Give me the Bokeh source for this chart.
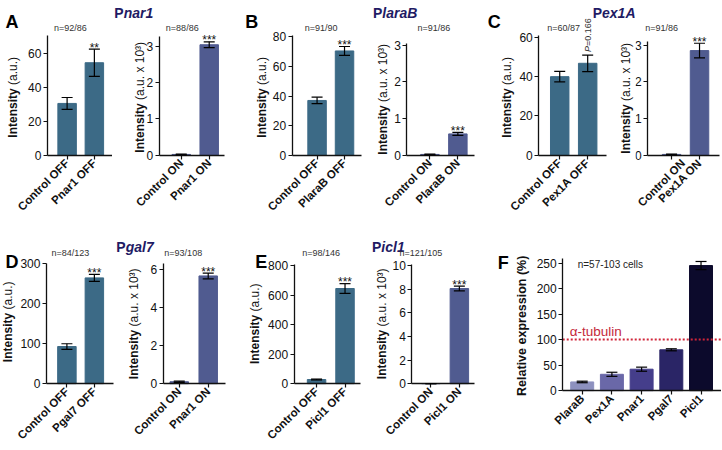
import math
from bokeh.plotting import figure
from bokeh.layouts import row, column
from bokeh.models import Range1d, FixedTicker, Whisker, TeeHead, Label, ColumnDataSource
from bokeh.embed import file_html
from bokeh.resources import INLINE

FONT = "Liberation Sans"

# ======================= DATA =======================
a_off_cats = ["Control OFF", "Pnar1 OFF"]
a_off_vals = [30.5, 54.5]
a_off_errs = [3.5, 8.0]
a_off_stars = ["", "**"]
a_off_n = "n=92/86"
a_on_cats = ["Control ON", "Pnar1 ON"]
a_on_vals = [0.02, 3.05]
a_on_errs = [0.01, 0.08]
a_on_stars = ["", "***"]
a_on_n = "n=88/86"

b_off_cats = ["Control OFF", "PlaraB OFF"]
b_off_vals = [37.0, 70.5]
b_off_errs = [2.2, 3.0]
b_off_stars = ["", "***"]
b_off_n = "n=91/90"
b_on_cats = ["Control ON", "PlaraB ON"]
b_on_vals = [0.02, 0.58]
b_on_errs = [0.01, 0.04]
b_on_stars = ["", "***"]
b_on_n = "n=91/86"

c_off_cats = ["Control OFF", "Pex1A OFF"]
c_off_vals = [40.0, 46.8]
c_off_errs = [2.7, 4.2]
c_off_stars = ["", ""]
c_off_n = "n=60/87"
c_off_pvalue = "=0.166"
c_on_cats = ["Control ON", "Pex1A ON"]
c_on_vals = [0.02, 2.85]
c_on_errs = [0.01, 0.2]
c_on_stars = ["", "***"]
c_on_n = "n=91/86"

d_off_cats = ["Control OFF", "Pgal7 OFF"]
d_off_vals = [93.0, 265.0]
d_off_errs = [7.0, 9.0]
d_off_stars = ["", "***"]
d_off_n = "n=84/123"
d_on_cats = ["Control ON", "Pnar1 ON"]
d_on_vals = [0.1, 5.65]
d_on_errs = [0.03, 0.15]
d_on_stars = ["", "***"]
d_on_n = "n=93/108"

e_off_cats = ["Control OFF", "Picl1 OFF"]
e_off_vals = [28.0, 645.0]
e_off_errs = [3.0, 33.0]
e_off_stars = ["", "***"]
e_off_n = "n=98/146"
e_on_cats = ["Control ON", "Picl1 ON"]
e_on_vals = [0.005, 8.05]
e_on_errs = [0.0, 0.2]
e_on_stars = ["", "***"]
e_on_n = "n=121/105"

f_cats = ["PlaraB", "Pex1A", "Pnar1", "Pgal7", "Picl1"]
f_vals = [17.0, 32.0, 42.0, 80.0, 245.0]
f_errs = [1.5, 4.0, 4.0, 2.0, 8.0]
f_stars = ["", "", "", "", ""]
f_n = "n=57-103 cells"
tubulin_level = 100
tubulin_label = "\u03b1-tubulin"

a_off_yticks = [0, 20, 40, 60]
a_on_yticks = [0, 1, 2, 3]
b_off_yticks = [0, 20, 40, 60, 80]
b_on_yticks = [0, 1, 2, 3]
c_off_yticks = [0, 20, 40, 60]
c_on_yticks = [0, 1, 2, 3]
d_off_yticks = [0, 100, 200, 300]
d_on_yticks = [0, 2, 4, 6]
e_off_yticks = [0, 200, 400, 600, 800]
e_on_yticks = [0, 2, 4, 6, 8, 10]
f_yticks = [0, 50, 100, 150, 200, 250]

titles = {"A": ("P", "nar1"), "B": ("P", "laraB"), "C": ("P", "ex1A"),
          "D": ("P", "gal7"), "E": ("P", "icl1")}

# ======================= STYLE / LAYOUT =======================
OFF_COLOR = "#3c6a86"
ON_COLOR = "#505b90"
TITLE_COLOR = "#1f1b64"
f_colors = ["#8d91bf", "#6a68a8", "#453e8b", "#2a2566", "#0c0a2c"]

SX = 721 / 722
SY = 449 / 450

W_REG = {' ': 278, '(': 333, ')': 333, 'a': 556, '.': 278, 'u': 556, 'x': 500,
         '1': 556, '0': 556, '\u00b3': 333, '=': 584, 'P': 667}
W_BOLD = {'I': 278, 'n': 611, 't': 333, 'e': 556, 's': 556, 'i': 278, 'y': 556,
          'P': 667, 'R': 722, 'l': 278, 'a': 556, 'v': 556, 'x': 556, 'p': 611,
          'r': 389, 'o': 611, ' ': 278, '(': 333, '%': 889, ')': 333}


def tw(s, size, table):
    return sum(table.get(c, 556) for c in s) * size / 1000.0


class Geo:
    """Maps reference-pixel positions to the data space of one canvas."""
    def __init__(self, box, frame, tick_px, ymax):
        x0, x1, y0, y1 = box
        l, r, t, b = frame
        self.X0, self.X1 = round(x0 * SX), round(x1 * SX)
        self.Y0, self.Y1 = round(y0 * SY), round(y1 * SY)
        self.T1 = tick_px[0] * SX
        self.STEP = (tick_px[1] - tick_px[0]) * SX
        self.step_ref = tick_px[1] - tick_px[0]
        self.Bl = b * SY
        self.Tl = t * SY
        self.ymax = ymax
        self.l = l
        self.r = r

    def dxl(self, X):
        return 1 + (X - self.T1) / self.STEP

    def dx(self, px):
        return self.dxl(px * SX)

    def dyl(self, Y):
        return (self.Bl - Y) * self.ymax / (self.Bl - self.Tl)

    def dy(self, py):
        return self.dyl(py * SY)

    def per_px(self):
        return self.ymax / (self.Bl - self.Tl)


def style_axis(ax, size, bold=False):
    ax.major_label_text_font = FONT
    ax.major_label_text_font_size = size
    ax.major_label_text_color = "#111111"
    if bold:
        ax.major_label_text_font_style = "bold"
    ax.major_tick_out = 4
    ax.major_tick_in = 0
    ax.minor_tick_out = 0
    ax.minor_tick_in = 0
    ax.major_label_standoff = 2
    ax.axis_line_width = 1.3
    ax.axis_line_color = "#111111"
    ax.major_tick_line_color = "#111111"
    ax.major_tick_line_width = 1.2


def make_sub(box, frame, tick_px, ymax, cats, vals, errs, yticks, colors, bar_px, stars):
    n = len(cats)
    g = Geo(box, frame, tick_px, ymax)
    p = figure(width=g.X1 - g.X0, height=g.Y1 - g.Y0,
               x_range=Range1d(g.dxl(g.X0), g.dxl(g.X1)),
               y_range=Range1d(g.dyl(g.Y1), g.dyl(g.Y0)),
               output_backend="svg", toolbar_location=None,
               min_border_left=0, min_border_right=0,
               min_border_top=0, min_border_bottom=0)
    p.outline_line_color = None
    p.xgrid.visible = False
    p.ygrid.visible = False
    p.border_fill_color = "white"
    p.background_fill_color = "white"
    xpos = list(range(1, n + 1))
    src = ColumnDataSource(dict(
        x=xpos, top=vals, color=colors,
        upper=[v + e for v, e in zip(vals, errs)],
        lower=[v - e for v, e in zip(vals, errs)]))
    p.vbar(x="x", top="top", width=bar_px / g.step_ref, fill_color="color",
           line_color="color", source=src)
    w = Whisker(source=src, base="x", upper="upper", lower="lower",
                line_color="#000000", line_width=1.2, level="overlay",
                upper_head=TeeHead(size=11, line_color="#000000", line_width=1.2),
                lower_head=TeeHead(size=11, line_color="#000000", line_width=1.2))
    p.add_layout(w)

    x_axis_at = g.dx(g.l)
    ya = p.yaxis[0]
    ya.ticker = FixedTicker(ticks=yticks)
    ya.fixed_location = x_axis_at
    ya.bounds = (0, ymax)
    style_axis(ya, "12px")

    xa = p.xaxis[0]
    xa.ticker = FixedTicker(ticks=xpos)
    xa.major_label_overrides = {x: c for x, c in zip(xpos, cats)}
    xa.major_label_orientation = math.pi / 4
    xa.fixed_location = 0
    xa.bounds = (x_axis_at, g.dx(g.r))
    style_axis(xa, "11.5px", bold=True)

    for x, v, e, s in zip(xpos, vals, errs, stars):
        if s:
            p.add_layout(Label(x=x, y=v + e + 1.5 * g.per_px(), text=s,
                               text_font=FONT, text_font_size="12px",
                               text_align="center", text_baseline="alphabetic",
                               text_color="#111111"))
    return p, g


def add_text(p, g, text, px, py, size, style="normal", color="#111111",
             align="left", baseline="middle", angle=0.0):
    p.add_layout(Label(x=g.dx(px), y=g.dy(py), text=text, text_font=FONT,
                       text_font_size=f"{size}px", text_font_style=style,
                       text_color=color, text_align=align, text_baseline=baseline,
                       angle=angle))


def add_ylabel(p, g, xc, yc, bold, suffix, size=12):
    wb = tw(bold, size, W_BOLD)
    gap = tw(" ", size, W_REG) if suffix else 0
    ws = tw(suffix, size, W_REG) if suffix else 0
    total = wb + gap + ws
    ybot = yc * SY + total / 2.0
    hx = g.dx(xc)
    p.add_layout(Label(x=hx, y=g.dyl(ybot), text=bold, text_font=FONT,
                       text_font_size=f"{size}px", text_font_style="bold",
                       text_color="#111111", text_align="left",
                       text_baseline="middle", angle=math.pi / 2))
    if suffix:
        p.add_layout(Label(x=hx, y=g.dyl(ybot - wb - gap), text=suffix, text_font=FONT,
                           text_font_size=f"{size}px", text_font_style="normal",
                           text_color="#111111", text_align="left",
                           text_baseline="middle", angle=math.pi / 2))


def add_title(p, g, key, px, py, size=14):
    first, rest = titles[key]
    add_text(p, g, first, px, py, size, "bold", TITLE_COLOR, "left", "alphabetic")
    w = tw(first, size, W_BOLD) / SX
    add_text(p, g, rest, px + w, py, size, "bold italic", TITLE_COLOR, "left", "alphabetic")


BAR = 18.5
A1, gA1 = make_sub((0, 112, 0, 225), (47, 112, 35, 155), (66.7, 94), 70.6,
                   a_off_cats, a_off_vals, a_off_errs, a_off_yticks, [OFF_COLOR] * 2, BAR, a_off_stars)
A2, gA2 = make_sub((112, 243, 0, 225), (159, 224, 36, 155), (181, 209), 3.28,
                   a_on_cats, a_on_vals, a_on_errs, a_on_yticks, [ON_COLOR] * 2, BAR, a_on_stars)
B1, gB1 = make_sub((243, 365, 0, 225), (292, 362, 35, 155), (317, 344.5), 81,
                   b_off_cats, b_off_vals, b_off_errs, b_off_yticks, [OFF_COLOR] * 2, BAR, b_off_stars)
B2, gB2 = make_sub((365, 485, 0, 225), (407, 475, 43, 155), (430, 458), 3.05,
                   b_on_cats, b_on_vals, b_on_errs, b_on_yticks, [ON_COLOR] * 2, BAR, b_on_stars)
C1, gC1 = make_sub((485, 636, 0, 225), (539, 607, 35, 155), (560, 588), 61,
                   c_off_cats, c_off_vals, c_off_errs, c_off_yticks, [OFF_COLOR] * 2, BAR, c_off_stars)
C2, gC2 = make_sub((636, 722, 0, 225), (648, 720, 41, 155), (672, 700), 3.1,
                   c_on_cats, c_on_vals, c_on_errs, c_on_yticks, [ON_COLOR] * 2, BAR, c_on_stars)
D1, gD1 = make_sub((0, 114, 225, 450), (46, 113, 264, 384), (66.5, 94), 300,
                   d_off_cats, d_off_vals, d_off_errs, d_off_yticks, [OFF_COLOR] * 2, BAR, d_off_stars)
D2, gD2 = make_sub((114, 245, 225, 450), (163, 225, 264, 384), (179, 208), 6.28,
                   d_on_cats, d_on_vals, d_on_errs, d_on_yticks, [ON_COLOR] * 2, BAR, d_on_stars)
E1, gE1 = make_sub((245, 362, 225, 450), (294, 360, 265, 384), (316.5, 345), 805,
                   e_off_cats, e_off_vals, e_off_errs, e_off_yticks, [OFF_COLOR] * 2, BAR, e_off_stars)
E2, gE2 = make_sub((362, 480, 225, 450), (412, 475, 265, 384), (431, 459.5), 10.05,
                   e_on_cats, e_on_vals, e_on_errs, e_on_yticks, [ON_COLOR] * 2, BAR, e_on_stars)
F, gF = make_sub((480, 722, 225, 450), (563, 722, 259, 391), (582.5, 612.25), 258,
                 f_cats, f_vals, f_errs, f_yticks, f_colors, 23, f_stars)

# panel letters
for p, g, letter, px, py in [(A1, gA1, "A", 5, 22), (B1, gB1, "B", 245, 22), (C1, gC1, "C", 488, 22),
                             (D1, gD1, "D", 5, 262), (E1, gE1, "E", 255, 262), (F, gF, "F", 498, 263)]:
    add_text(p, g, letter, px, py, 18, "bold", "#000000", "left", "alphabetic")

# panel titles
add_title(A2, gA2, "A", 114, 13)
add_title(B2, gB2, "B", 373, 13)
add_title(C1, gC1, "C", 593, 13)
add_title(D2, gD2, "D", 116, 247)
add_title(E2, gE2, "E", 372, 247)

# y-axis labels
SUF_OFF = "(a.u.)"
SUF_ON = "(a.u. x 10\u00b3)"
add_ylabel(A1, gA1, 13, 97, "Intensity", SUF_OFF)
add_ylabel(A2, gA2, 140, 97, "Intensity", SUF_ON)
add_ylabel(B1, gB1, 262, 97, "Intensity", SUF_OFF)
add_ylabel(B2, gB2, 383, 99, "Intensity", SUF_ON)
add_ylabel(C1, gC1, 507, 97, "Intensity", SUF_OFF)
add_ylabel(C1, gC1, 626, 98, "Intensity", SUF_ON)
add_ylabel(D1, gD1, 8, 322, "Intensity", SUF_OFF)
add_ylabel(D2, gD2, 134, 324, "Intensity", SUF_ON)
add_ylabel(E1, gE1, 255, 324, "Intensity", SUF_OFF)
add_ylabel(E2, gE2, 382, 324, "Intensity", SUF_ON)
add_ylabel(F, gF, 522, 326, "Relative expression (%)", "", size=12.5)

# n labels
for p, g, t, px, py in [(A1, gA1, a_off_n, 70, 28), (A2, gA2, a_on_n, 182, 28),
                        (B1, gB1, b_off_n, 321, 28), (B2, gB2, b_on_n, 434, 28),
                        (C1, gC1, c_off_n, 564, 28), (C2, gC2, c_on_n, 662, 28),
                        (D1, gD1, d_off_n, 70, 253), (D2, gD2, d_on_n, 183, 253),
                        (E1, gE1, e_off_n, 321, 253), (E2, gE2, e_on_n, 421, 253)]:
    add_text(p, g, t, px, py, 9, "normal", "#333333", "center", "middle")

# p-value in C (rotated)
yb = c_off_vals[1] + c_off_errs[1] + 3 * gC1.per_px()
C1.add_layout(Label(x=2, y=yb, text="P", text_font=FONT, text_font_size="9px",
                    text_font_style="italic", text_color="#333333", text_align="left",
                    text_baseline="middle", angle=math.pi / 2))
C1.add_layout(Label(x=2, y=yb + tw("P", 9, W_REG) * gC1.per_px(), text=c_off_pvalue,
                    text_font=FONT, text_font_size="9px", text_color="#333333",
                    text_align="left", text_baseline="middle", angle=math.pi / 2))

# F extras: alpha-tubulin reference line between the axis start and the frame end
F.line(x=[gF.dx(gF.l), gF.dx(gF.r)], y=[tubulin_level, tubulin_level],
       line_color="#d0263a", line_dash="2 2", line_width=2)
add_text(F, gF, tubulin_label, 570, 332, 13.5, "normal", "#c4283a", "left", "alphabetic")
add_text(F, gF, f_n, 578, 265, 10, "normal", "#222222", "left", "middle")

layout = column(row(A1, A2, B1, B2, C1, C2), row(D1, D2, E1, E2, F))
open("out.html", "w").write(file_html(layout, INLINE))
